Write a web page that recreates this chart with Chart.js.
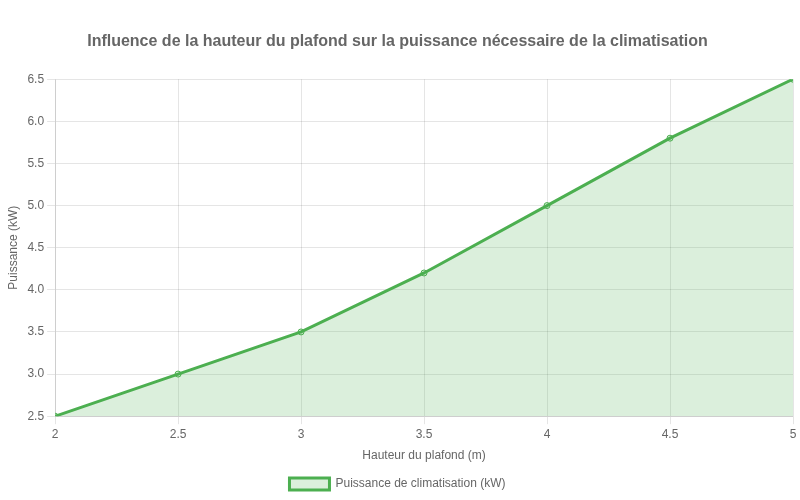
<!DOCTYPE html>
<html lang="fr">
<head>
<meta charset="utf-8">
<script src="https://cdn.jsdelivr.net/npm/chart.js@4"></script>
<style>
  html, body { margin: 0; padding: 0; background: #fff; }
  #wrap { width: 800px; height: 500px; }
</style>
</head>
<body>
<div id="wrap"><canvas id="chartPuissance"></canvas></div>
<script>
// Hauteur du plafond (m) et puissance nécessaire (kW)
const hauteurs = [2, 2.5, 3, 3.5, 4, 4.5, 5];
const puissances = [2.5, 3.0, 3.5, 4.2, 5.0, 5.8, 6.5];

const VERT = "#4caf50";
const VERT_FOND = "rgba(76, 175, 80, 0.2)";

Chart.defaults.font.family = "'Liberation Sans', Arial, sans-serif";
Chart.defaults.color = "#666";

new Chart(document.getElementById("chartPuissance"), {
  type: "line",
  data: {
    datasets: [{
      label: "Puissance de climatisation (kW)",
      data: hauteurs.map((h, i) => ({ x: h, y: puissances[i] })),
      borderColor: VERT,
      backgroundColor: VERT_FOND,
      borderWidth: 3,
      fill: "origin",
      tension: 0,
      pointRadius: 3,
      pointBackgroundColor: VERT_FOND,
      pointBorderColor: VERT,
      pointBorderWidth: 1,
    }],
  },
  options: {
    responsive: true,
    maintainAspectRatio: false,
    animation: false,
    layout: { padding: { left: 2, right: 7, top: 14, bottom: 0 } },
    plugins: {
      title: {
        display: true,
        text: "Influence de la hauteur du plafond sur la puissance nécessaire de la climatisation",
        font: { size: 16, weight: "bold" },
        color: "#666",
        padding: { top: 18, bottom: 28 },
      },
      legend: {
        position: "bottom",
        labels: { font: { size: 12 }, boxWidth: 40, padding: 11 },
      },
    },
    scales: {
      x: {
        type: "linear",
        min: 2,
        max: 5,
        ticks: { stepSize: 0.5, font: { size: 12 }, callback: (v) => String(v) },
        title: { display: true, text: "Hauteur du plafond (m)", font: { size: 12 } },
      },
      y: {
        min: 2.5,
        max: 6.5,
        ticks: { stepSize: 0.5, font: { size: 12 }, callback: (v) => Number(v).toFixed(1) },
        title: { display: true, text: "Puissance (kW)", font: { size: 12 } },
      },
    },
  },
});
</script>
</body>
</html>
